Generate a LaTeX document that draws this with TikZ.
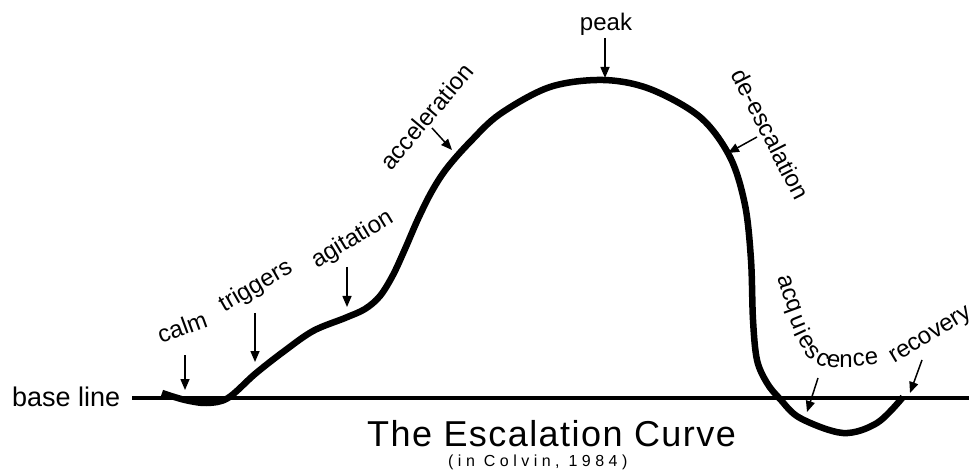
\documentclass[tikz,border=0pt]{standalone}
\usepackage{fontspec}
\setmainfont{Liberation Sans}
\usetikzlibrary{arrows.meta}
\newcommand\lblfont{\fontsize{24}{28}\selectfont}
\tikzset{
  lbl/.style={font=\lblfont, inner sep=0pt, anchor=base},
  letter/.style={font=\lblfont, inner sep=0pt, anchor=mid},
  pointer/.style={line width=1.5pt, -{Triangle[length=11pt,width=9pt]}},
  curveline/.style={line width=6.5pt, line join=round},
  baseline/.style={line width=4.5pt}
}
\begin{document}
\begin{tikzpicture}[x=1pt,y=-1pt]
\useasboundingbox[fill=white] (0,0) rectangle (969,470);
% base line
\coordinate (blA) at (132,398);
\coordinate (blB) at (969,398);
\draw[baseline] (blA) -- (blB);
\node[font=\fontsize{27}{32}\selectfont, inner sep=0pt, anchor=base west] (bltext) at (12,406) {base line};
% escalation curve
\draw[curveline] plot[smooth, tension=0.55] coordinates {
(162,393) (185,400) (207,403) (228,398) (255,374) (283,352) (313,331) (345,318) (365,309) (380,296) (393,275) (405,249) (418,219) (432,191) (447,168) (470,142) (500,114) (550,87) (603,80) (650,89) (700,117) (730,157) (745,205) (751,260) (753,320) (757,360) (767,383) (780,399) (800,418) (843,433) (877,423) (903,397)};
% labels
\node[lbl, rotate=20] (calm) at (185,335) {calm};
\node[lbl, rotate=30] (triggers) at (259,292) {triggers};
\node[lbl, rotate=31] (agitation) at (356,245) {agitation};
\node[lbl, rotate=50] (acceleration) at (433,122) {acceleration};
\node[lbl] (peak) at (606,31) {peak};
\node[lbl, rotate=-63] (deesc) at (763,138) {de-escalation};
\node[lbl, rotate=31, anchor=base west] (recovery) at (894,364) {recovery};
% acquiescence, letter by letter along a curve
\node[letter, rotate=-73] (acq1) at (782,283) {a};
\node[letter, rotate=-72] (acq2) at (786,295) {c};
\node[letter, rotate=-70] (acq3) at (790,307) {q};
\node[letter, rotate=-68] (acq4) at (794,324) {u};
\node[letter, rotate=-65] (acq5) at (797,335) {i};
\node[letter, rotate=-58] (acq6) at (803,344) {e};
\node[letter, rotate=-45] (acq7) at (810,355) {s};
\node[letter, rotate=-28] (acq8) at (821,363) {c};
\node[letter, rotate=-8] (acq9) at (833,365) {e};
\node[letter, rotate=0] (acq10) at (846,365) {n};
\node[letter, rotate=5] (acq11) at (859,363.5) {c};
\node[letter, rotate=8] (acq12) at (872,362) {e};
% arrows
\coordinate (calmT) at (185,355);   \coordinate (calmH) at (185,390);
\coordinate (trigT) at (255,313);   \coordinate (trigH) at (255,362);
\coordinate (agitT) at (347,267);   \coordinate (agitH) at (347,307);
\coordinate (accT) at (432,128);    \coordinate (accH) at (452,150);
\coordinate (peakT) at (605,38);    \coordinate (peakH) at (605,78);
\coordinate (deT) at (757,137);     \coordinate (deH) at (728,153);
\coordinate (acqT) at (818,378);    \coordinate (acqH) at (807,412);
\coordinate (recT) at (922,360);    \coordinate (recH) at (910,393);
\draw[pointer] (calmT) -- (calmH);
\draw[pointer] (trigT) -- (trigH);
\draw[pointer] (agitT) -- (agitH);
\draw[pointer] (accT) -- (accH);
\draw[pointer] (peakT) -- (peakH);
\draw[pointer] (deT) -- (deH);
\draw[pointer] (acqT) -- (acqH);
\draw[pointer] (recT) -- (recH);
% title
\node[font=\fontsize{36}{40}\selectfont\addfontfeature{LetterSpace=4}, inner sep=0pt, anchor=base west] (title) at (367,446) {The Escalation Curve};
\node[font=\fontsize{16}{18}\selectfont\addfontfeature{LetterSpace=28}, inner sep=0pt, anchor=base west] (source) at (448,466) {(in Colvin, 1984)};
\end{tikzpicture}
\end{document}
